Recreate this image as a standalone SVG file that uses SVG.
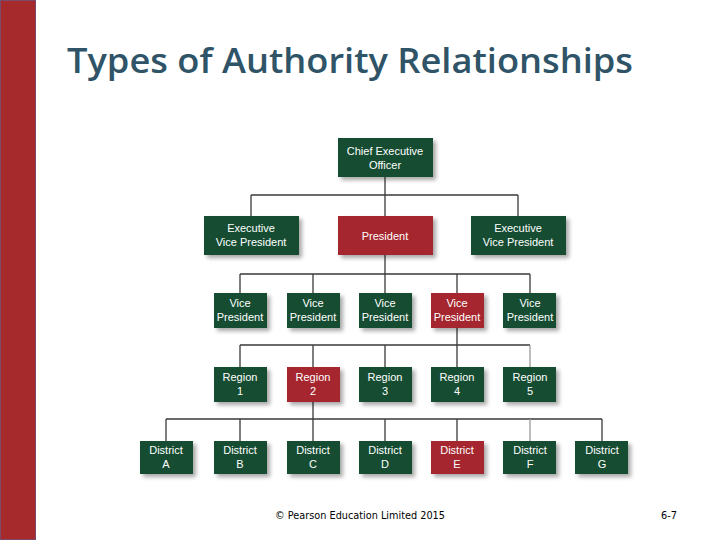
<svg xmlns="http://www.w3.org/2000/svg" width="720" height="540" viewBox="0 0 720 540">
<style>
.g{fill:#144d32}
.r{fill:#a5282e}
.t{font-family:"Liberation Sans",Arial,sans-serif;font-size:11px;fill:#ffffff;text-anchor:middle}
.c{stroke:#3a3a3a;stroke-width:1.3;fill:none}
.title{font-family:"Open Sans","Liberation Sans",sans-serif;font-weight:600;font-size:35px;fill:#2f5468}
.foot{font-family:"DejaVu Sans","Liberation Sans",sans-serif;font-size:10.5px;fill:#000}
</style>
<defs>
<filter id="sh" x="-20%" y="-20%" width="150%" height="160%">
<feGaussianBlur in="SourceAlpha" stdDeviation="2.2"/>
<feOffset dx="2.5" dy="3" result="b"/>
<feComponentTransfer><feFuncA type="linear" slope="0.35"/></feComponentTransfer>
<feMerge><feMergeNode/><feMergeNode in="SourceGraphic"/></feMerge>
</filter>
</defs>
<rect width="720" height="540" fill="#ffffff"/>
<rect x="0" y="0" width="36" height="540" fill="#a6292c"/>
<rect x="0.5" y="0.5" width="35" height="539" fill="none" stroke="#7a4a6a" stroke-width="1"/>
<text class="title" x="67" y="73" textLength="566" lengthAdjust="spacingAndGlyphs">Types of Authority Relationships</text>

<g id="connectors">
<path class="c" d="M385 177V216M251 195H518M251 195V216M518 195V216"/>
<path class="c" d="M385 255V274M240 274H530M240 274V293M313 274V293M385 274V293M457 274V293M530 274V293"/>
<path class="c" d="M457 328V345M240 345H530M240 345V367M313 345V367M385 345V367M457 345V367"/>
<path d="M530 345V367" stroke="#9a9a9a" stroke-width="1.3"/>
<path class="c" d="M313 402V419M166 419H602M166 419V441M240 419V441M313 419V441M385 419V441M457 419V441M602 419V441"/>
<path d="M530 419V441" stroke="#9a9a9a" stroke-width="1.3"/>
</g>

<g id="ceo"><rect class="g" x="338" y="138" width="95" height="39" filter="url(#sh)"/><text class="t" x="385" y="155">Chief Executive</text><text class="t" x="385" y="169">Officer</text></g>
<g id="evp1"><rect class="g" x="204" y="216" width="95" height="39" filter="url(#sh)"/><text class="t" x="251" y="232">Executive</text><text class="t" x="251" y="246">Vice President</text></g>
<g id="president"><rect class="r" x="338" y="216" width="95" height="39" filter="url(#sh)"/><text class="t" x="385" y="240">President</text></g>
<g id="evp2"><rect class="g" x="471" y="216" width="95" height="39" filter="url(#sh)"/><text class="t" x="518" y="232">Executive</text><text class="t" x="518" y="246">Vice President</text></g>

<g id="vp1"><rect class="g" x="214" y="293" width="53" height="35" filter="url(#sh)"/><text class="t" x="240" y="307">Vice</text><text class="t" x="240" y="321">President</text></g>
<g id="vp2"><rect class="g" x="287" y="293" width="53" height="35" filter="url(#sh)"/><text class="t" x="313" y="307">Vice</text><text class="t" x="313" y="321">President</text></g>
<g id="vp3"><rect class="g" x="359" y="293" width="53" height="35" filter="url(#sh)"/><text class="t" x="385" y="307">Vice</text><text class="t" x="385" y="321">President</text></g>
<g id="vp4"><rect class="r" x="431" y="293" width="53" height="35" filter="url(#sh)"/><text class="t" x="457" y="307">Vice</text><text class="t" x="457" y="321">President</text></g>
<g id="vp5"><rect class="g" x="503" y="293" width="53" height="35" filter="url(#sh)"/><text class="t" x="530" y="307">Vice</text><text class="t" x="530" y="321">President</text></g>

<g id="region1"><rect class="g" x="214" y="367" width="53" height="35" filter="url(#sh)"/><text class="t" x="240" y="381">Region</text><text class="t" x="240" y="395">1</text></g>
<g id="region2"><rect class="r" x="287" y="367" width="53" height="35" filter="url(#sh)"/><text class="t" x="313" y="381">Region</text><text class="t" x="313" y="395">2</text></g>
<g id="region3"><rect class="g" x="359" y="367" width="53" height="35" filter="url(#sh)"/><text class="t" x="385" y="381">Region</text><text class="t" x="385" y="395">3</text></g>
<g id="region4"><rect class="g" x="431" y="367" width="53" height="35" filter="url(#sh)"/><text class="t" x="457" y="381">Region</text><text class="t" x="457" y="395">4</text></g>
<g id="region5"><rect class="g" x="503" y="367" width="53" height="35" filter="url(#sh)"/><text class="t" x="530" y="381">Region</text><text class="t" x="530" y="395">5</text></g>

<g id="districtA"><rect class="g" x="140" y="441" width="53" height="33" filter="url(#sh)"/><text class="t" x="166" y="454">District</text><text class="t" x="166" y="468">A</text></g>
<g id="districtB"><rect class="g" x="214" y="441" width="53" height="33" filter="url(#sh)"/><text class="t" x="240" y="454">District</text><text class="t" x="240" y="468">B</text></g>
<g id="districtC"><rect class="g" x="287" y="441" width="53" height="33" filter="url(#sh)"/><text class="t" x="313" y="454">District</text><text class="t" x="313" y="468">C</text></g>
<g id="districtD"><rect class="g" x="359" y="441" width="53" height="33" filter="url(#sh)"/><text class="t" x="385" y="454">District</text><text class="t" x="385" y="468">D</text></g>
<g id="districtE"><rect class="r" x="431" y="441" width="53" height="33" filter="url(#sh)"/><text class="t" x="457" y="454">District</text><text class="t" x="457" y="468">E</text></g>
<g id="districtF"><rect class="g" x="503" y="441" width="53" height="33" filter="url(#sh)"/><text class="t" x="530" y="454">District</text><text class="t" x="530" y="468">F</text></g>
<g id="districtG"><rect class="g" x="575" y="441" width="53" height="33" filter="url(#sh)"/><text class="t" x="602" y="454">District</text><text class="t" x="602" y="468">G</text></g>

<text class="foot" x="275" y="519" textLength="170" lengthAdjust="spacingAndGlyphs">© Pearson Education Limited 2015</text>
<text class="foot" x="661" y="519" textLength="16" lengthAdjust="spacingAndGlyphs">6-7</text>
</svg>
